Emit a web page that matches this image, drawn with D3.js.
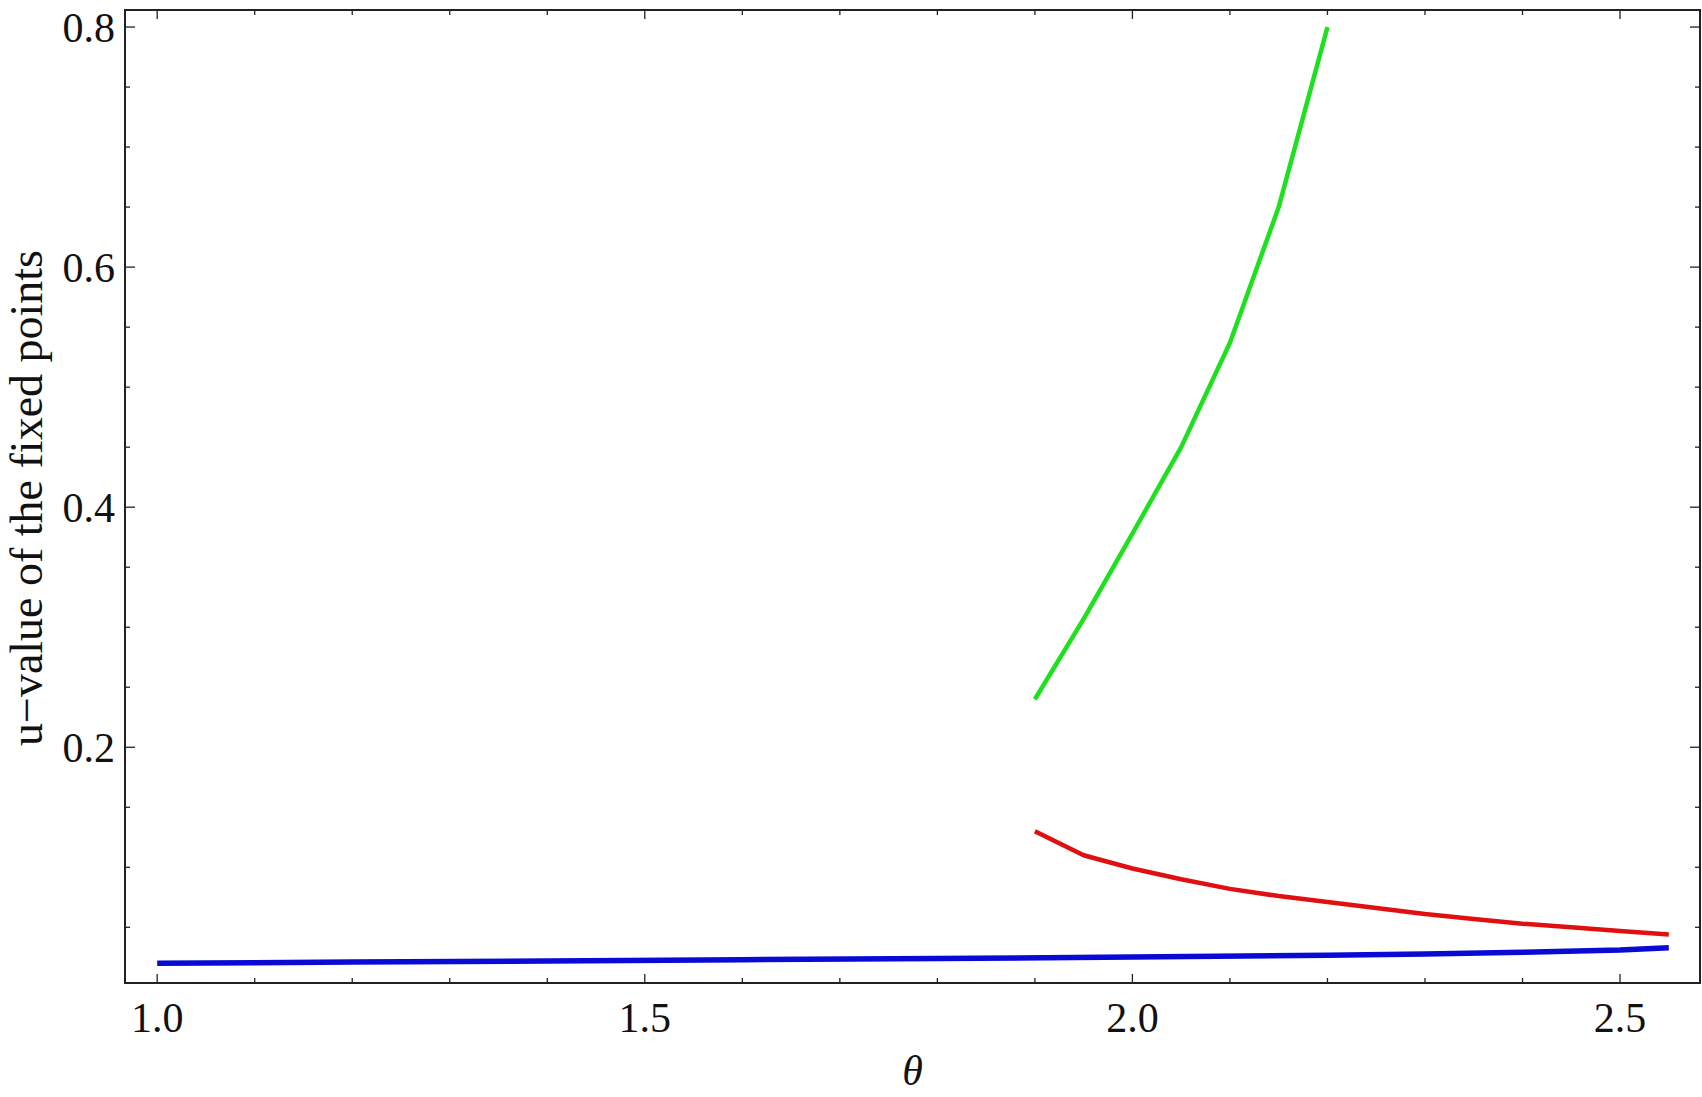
<!DOCTYPE html>
<html>
<head>
<meta charset="utf-8">
<script src="https://cdn.jsdelivr.net/npm/d3@7"></script>
<style>
  body { margin: 0; background: #fff; }
  svg { display: block; }
  text { font-family: "Liberation Serif", "DejaVu Serif", serif; fill: #111; }
</style>
</head>
<body>
<div id="chart"></div>
<script>
// fixed point branches, theta vs u
const blueTheta = [1.0, 1.2, 1.4, 1.6, 1.8, 2.0, 2.2, 2.3, 2.4, 2.5, 2.55];
const blueU     = [0.0200, 0.0210, 0.0220, 0.0230, 0.0240, 0.0252, 0.0268, 0.0278, 0.0292, 0.0310, 0.0330];

const redTheta = [1.9, 1.95, 2.0, 2.05, 2.1, 2.15, 2.2, 2.25, 2.3, 2.35, 2.4, 2.45, 2.5, 2.55];
const redU     = [0.130, 0.110, 0.099, 0.090, 0.082, 0.076, 0.071, 0.066, 0.061, 0.057, 0.053, 0.050, 0.047, 0.044];

const greenTheta = [1.9, 1.95, 2.0, 2.05, 2.1, 2.15, 2.2];
const greenU     = [0.240, 0.307, 0.378, 0.450, 0.537, 0.650, 0.800];

const xMajor = [1.0, 1.5, 2.0, 2.5];
const yMajor = [0.2, 0.4, 0.6, 0.8];

const width = 1702, height = 1097;
const margin = {top: 10, right: 2, bottom: 114, left: 125};

const svg = d3.select("#chart").append("svg")
    .attr("width", width)
    .attr("height", height);

const x = d3.scaleLinear()
    .domain([0.967, 2.582])
    .range([margin.left, width - margin.right]);

const y = d3.scaleLinear()
    .domain([0.0036, 0.8142])
    .range([height - margin.bottom, margin.top]);

const xMinor = d3.range(10, 26).map(d => d / 10).filter(d => !xMajor.some(m => Math.abs(m - d) < 1e-9));
const yMinor = d3.range(1, 17).map(d => d * 0.05).filter(d => d < 0.81 && !yMajor.some(m => Math.abs(m - d) < 1e-9));

const x0 = margin.left, x1 = width - margin.right;
const y0 = height - margin.bottom, y1 = margin.top;

// curves
const line = d3.line().x(d => x(d[0])).y(d => y(d[1]));

function drawSeries(th, u, color, w) {
    svg.append("path")
        .datum(th.map((t, i) => [t, u[i]]))
        .attr("fill", "none")
        .attr("stroke", color)
        .attr("stroke-width", w)
        .attr("stroke-linejoin", "round")
        .attr("d", line);
}

drawSeries(blueTheta, blueU, "#0a0ad6", 5.5);
drawSeries(redTheta, redU, "#e01010", 4.5);
drawSeries(greenTheta, greenU, "#1ee01e", 4.5);

// frame ticks
const tk = svg.append("g").attr("stroke", "#222").attr("stroke-width", 1.3);

xMajor.concat(xMinor).forEach(v => {
    const len = xMajor.includes(v) ? 9 : 5;
    tk.append("line").attr("x1", x(v)).attr("x2", x(v)).attr("y1", y0).attr("y2", y0 - len);
    tk.append("line").attr("x1", x(v)).attr("x2", x(v)).attr("y1", y1).attr("y2", y1 + len);
});

yMajor.concat(yMinor).forEach(v => {
    const len = yMajor.includes(v) ? 10 : 5;
    tk.append("line").attr("y1", y(v)).attr("y2", y(v)).attr("x1", x0).attr("x2", x0 + len);
    tk.append("line").attr("y1", y(v)).attr("y2", y(v)).attr("x1", x1).attr("x2", x1 - len);
});

svg.append("rect")
    .attr("x", x0).attr("y", y1)
    .attr("width", x1 - x0).attr("height", y0 - y1)
    .attr("fill", "none")
    .attr("stroke", "#222")
    .attr("stroke-width", 2);

// tick labels
svg.append("g").selectAll("text")
    .data(xMajor)
    .enter().append("text")
    .attr("x", d => x(d))
    .attr("y", y0 + 49)
    .attr("text-anchor", "middle")
    .style("font-size", "42px")
    .text(d => d.toFixed(1));

svg.append("g").selectAll("text")
    .data(yMajor)
    .enter().append("text")
    .attr("x", x0 - 10)
    .attr("y", d => y(d))
    .attr("dy", "0.35em")
    .attr("text-anchor", "end")
    .style("font-size", "42px")
    .text(d => d.toFixed(1));

// axis titles
svg.append("text")
    .attr("x", (x0 + x1) / 2)
    .attr("y", 1085)
    .attr("text-anchor", "middle")
    .style("font-size", "42px")
    .style("font-style", "italic")
    .text("θ");

svg.append("text")
    .attr("transform", "translate(42, 498) rotate(-90)")
    .attr("text-anchor", "middle")
    .style("font-size", "46px")
    .text("u\u2212value of the fixed points");
</script>
</body>
</html>
